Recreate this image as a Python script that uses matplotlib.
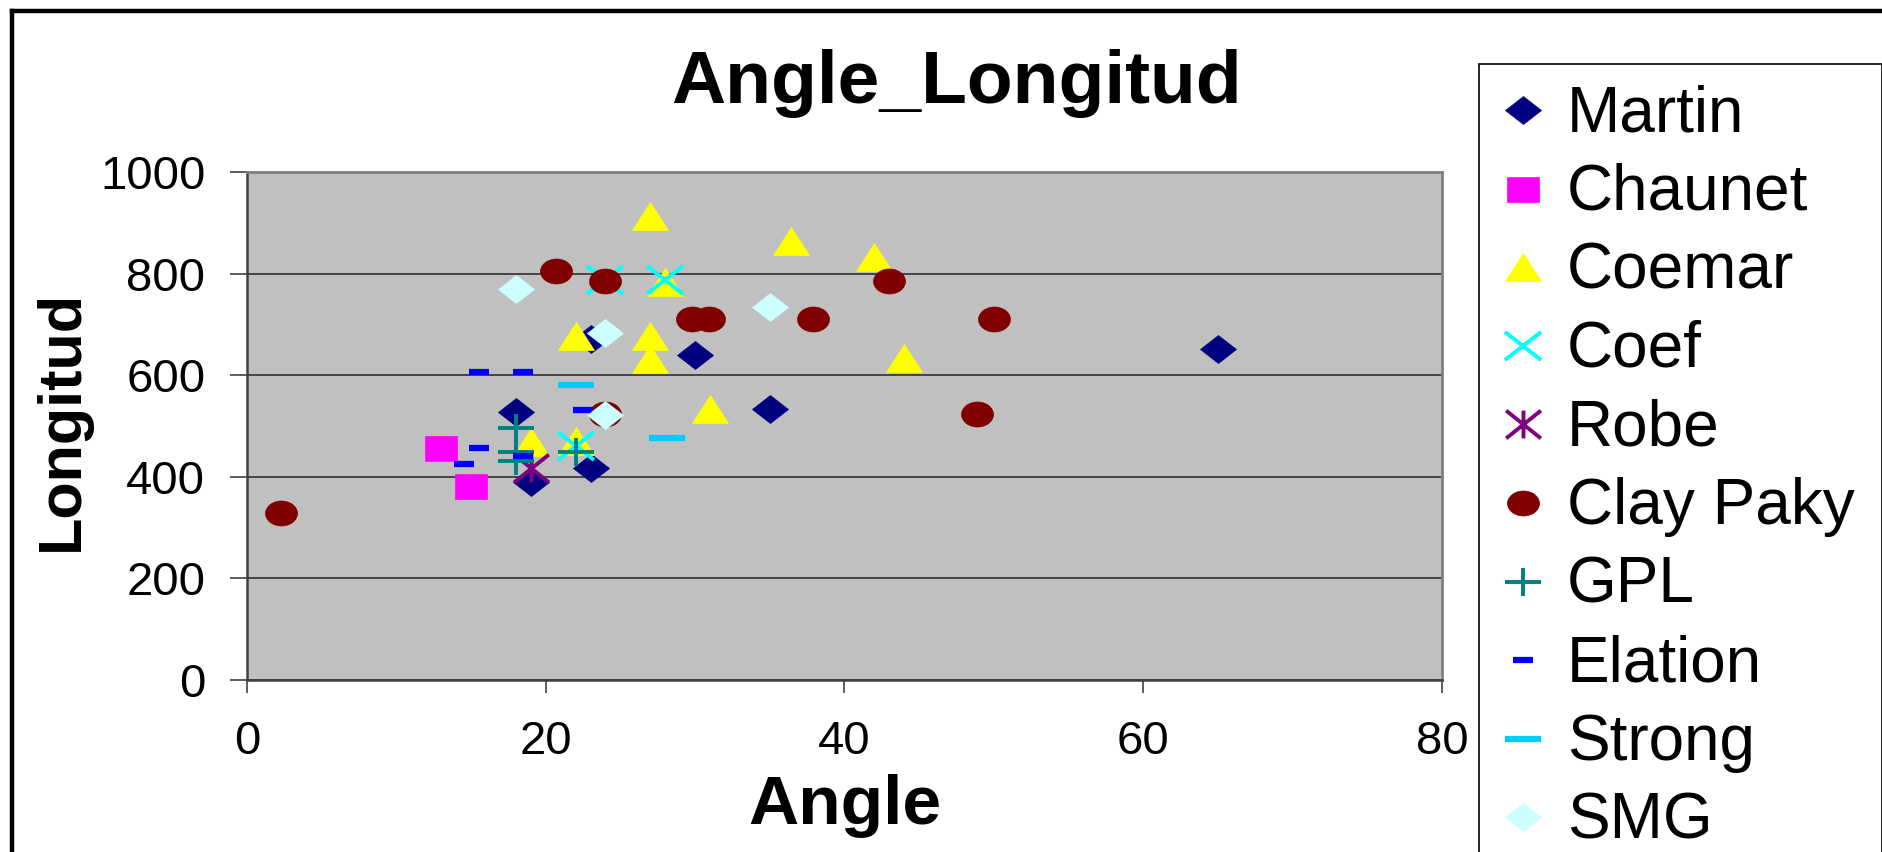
"""
plot.py - Angle vs Longitud scatter, one series per manufacturer.
"""
import numpy as np
import matplotlib
matplotlib.use("Agg")
import matplotlib.pyplot as plt
from matplotlib.markers import MarkerStyle
from matplotlib.transforms import Affine2D
from matplotlib.path import Path
from matplotlib.lines import Line2D
from matplotlib.patches import Rectangle

plt.rcParams["font.family"] = ["Liberation Sans", "DejaVu Sans"]

# ---- data ----
series_names = ["Martin", "Chaunet", "Coemar", "Coef", "Robe",
                "Clay Paky", "GPL", "Elation", "Strong", "SMG"]

martin_angle = [23, 30, 18, 19, 23, 65, 35]
martin_long = [671, 640, 528, 390, 417, 652, 534]

chaunet_angle = [13, 15]
chaunet_long = [457, 382]

coemar_angle = [27, 28, 22, 27, 27, 31, 22, 19, 36.4, 42, 44]
coemar_long = [913, 783, 677, 677, 632, 534, 471, 469, 864, 833, 633]

coef_angle = [24, 28, 22]
coef_long = [787, 787, 461]

robe_angle = [19]
robe_long = [417]

claypaky_angle = [2.3, 20.7, 24, 29.8, 30.9, 24, 37.9, 43, 50, 48.9]
claypaky_long = [329, 805, 786, 711, 711, 524, 711, 786, 711, 524]

gpl_angle = [18, 18, 18, 22]
gpl_long = [497, 448, 432, 448]

elation_angle = [15.5, 18.5, 22.5, 18.5, 15.5, 14.5]
elation_long = [606, 606, 531, 440, 456, 426]

strong_angle = [22, 28.1]
strong_long = [581, 476]

smg_angle = [18, 24, 24, 35]
smg_long = [770, 684, 522, 734]

angles = [martin_angle, chaunet_angle, coemar_angle, coef_angle, robe_angle,
          claypaky_angle, gpl_angle, elation_angle, strong_angle, smg_angle]
longs = [martin_long, chaunet_long, coemar_long, coef_long, robe_long,
         claypaky_long, gpl_long, elation_long, strong_long, smg_long]

x_ticks = [0, 20, 40, 60, 80]
y_ticks = [0, 200, 400, 600, 800, 1000]

# ---- marker styles (the original is stretched sideways) ----
SX = 1.3


def wide(marker, sx=SX, fill="full"):
    return MarkerStyle(marker, fillstyle=fill,
                       transform=Affine2D().scale(sx, 1.0))


asterisk = Path([(0, -1), (0, 1), (-1.25, -1), (1.25, 1), (-1.25, 1), (1.25, -1)],
                [Path.MOVETO, Path.LINETO] * 3)

styles = [
    dict(marker=wide("D"), ms=14.3, color="#000080", mew=0.5),
    dict(marker=wide("s", 1.28), ms=18, color="#FF00FF", mew=0.5),
    dict(marker=wide("^", 1.28), ms=20, color="#FFFF00", mew=0.5),
    dict(marker=wide("x", 1.32), ms=19.5, color="#00FFFF", mew=2.8),
    dict(marker=MarkerStyle(asterisk, fillstyle="none"), ms=25, color="#800080", mew=2.8),
    dict(marker=wide("o", 1.28), ms=18, color="#800000", mew=0.5),
    dict(marker=wide("+", 1.3), ms=19.5, color="#008080", mew=2.8),
    dict(marker="_", ms=14.4, color="#0000FF", mew=4.5),
    dict(marker="_", ms=26, color="#00CCFF", mew=4.5),
    dict(marker=wide("D"), ms=14.3, color="#CCFFFF", mew=0.5),
]

W, H = 1883, 852
fig = plt.figure(figsize=(W / 100, H / 100), dpi=100)
ax = fig.add_axes([247 / W, 1 - 680 / H, (1442 - 247) / W, (680 - 172) / H])
ax.set_facecolor("#C0C0C0")

for xs, ys, st in zip(angles, longs, styles):
    ax.plot(xs, ys, linestyle="none", marker=st["marker"], ms=st["ms"],
            mfc=st["color"], mec=st["color"], mew=st["mew"], clip_on=False)

ax.set_xlim(0, 80)
ax.set_ylim(0, 1000)
ax.set_xticks(x_ticks)
ax.set_yticks(y_ticks)
ax.grid(axis="y", color="#303030", linewidth=1.2)
ax.set_axisbelow(True)

for side in ["top", "right"]:
    ax.spines[side].set_color("#808080")
    ax.spines[side].set_linewidth(2)
for side in ["left", "bottom"]:
    ax.spines[side].set_color("#404040")
    ax.spines[side].set_linewidth(1.8)

ax.tick_params(axis="y", direction="out", length=12, width=1.2,
               color="#404040", labelsize=34, pad=18)
ax.tick_params(axis="x", direction="out", length=9, width=1.2,
               color="#404040", labelsize=34, pad=20)

ax.set_xlabel("Angle", fontsize=50, fontweight="bold", va="baseline")
ax.xaxis.set_label_coords(0.5, -(824 - 680) / 508)
ax.set_ylabel("Longitud", fontsize=44, fontweight="bold", va="center", ha="center")
ax.yaxis.set_label_coords((62 - 247) / 1195, (680 - 420) / 508)

fig.text(956 / W, 1 - 103 / H, "Angle_Longitud", ha="center", va="baseline",
         fontsize=54, fontweight="bold")

# outer chart border (cut off on right and bottom)
fig.add_artist(Line2D([12 / W, 12 / W], [0, 1 - 11 / H], color="black",
                      linewidth=3.2, transform=fig.transFigure))
fig.add_artist(Line2D([12 / W, 1], [1 - 11 / H, 1 - 11 / H], color="black",
                      linewidth=3.2, transform=fig.transFigure))

# legend box
fig.add_artist(Rectangle((1479 / W, -0.05), (1882 - 1479) / W, 1 - 64 / H + 0.05,
                         facecolor="white", edgecolor="black", linewidth=1.2,
                         transform=fig.transFigure))
for i, (name, st) in enumerate(zip(series_names, styles)):
    yc = 110 + i * 78.6
    fig.add_artist(Line2D([1523 / W], [1 - yc / H], linestyle="none",
                          marker=st["marker"], ms=st["ms"], mfc=st["color"],
                          mec=st["color"], mew=st["mew"],
                          transform=fig.transFigure))
    fig.text(1567 / W, 1 - (yc + 21) / H, name, fontsize=46, va="baseline")

fig.savefig("out.png", dpi=100)
